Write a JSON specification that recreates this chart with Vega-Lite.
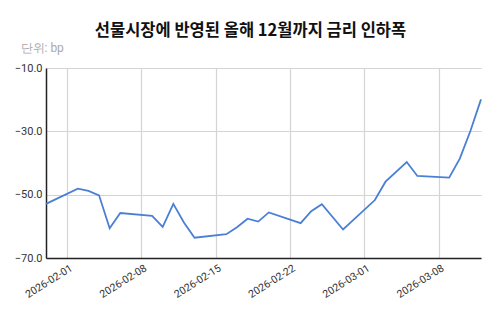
{
  "$schema": "https://vega.github.io/schema/vega-lite/v6.json",
  "autosize": "none",
  "width": 435,
  "height": 190,
  "padding": {"left": 46, "top": 68, "right": 19, "bottom": 54},
  "background": "white",
  "title": {
    "text": "선물시장에 반영된 올해 12월까지 금리 인하폭",
    "font": "Noto Sans CJK KR",
    "fontSize": 16.5,
    "fontWeight": "bold",
    "color": "#111111",
    "anchor": "middle",
    "frame": "group",
    "dx": -13,
    "dy": 19,
    "baseline": "alphabetic",
    "offset": 8
  },
  "data": {
    "values": [
      {"date": "2026-01-30", "value": -52.9},
      {"date": "2026-02-02", "value": -48.1},
      {"date": "2026-02-03", "value": -48.8},
      {"date": "2026-02-04", "value": -50.2},
      {"date": "2026-02-05", "value": -60.6},
      {"date": "2026-02-06", "value": -55.8},
      {"date": "2026-02-09", "value": -56.7},
      {"date": "2026-02-10", "value": -60.2},
      {"date": "2026-02-11", "value": -52.9},
      {"date": "2026-02-12", "value": -58.8},
      {"date": "2026-02-13", "value": -63.6},
      {"date": "2026-02-16", "value": -62.5},
      {"date": "2026-02-17", "value": -60.3},
      {"date": "2026-02-18", "value": -57.6},
      {"date": "2026-02-19", "value": -58.5},
      {"date": "2026-02-20", "value": -55.6},
      {"date": "2026-02-23", "value": -59.0},
      {"date": "2026-02-24", "value": -55.2},
      {"date": "2026-02-25", "value": -53.0},
      {"date": "2026-02-27", "value": -61.0},
      {"date": "2026-03-02", "value": -51.7},
      {"date": "2026-03-03", "value": -45.9},
      {"date": "2026-03-05", "value": -39.7},
      {"date": "2026-03-06", "value": -44.1},
      {"date": "2026-03-09", "value": -44.6},
      {"date": "2026-03-10", "value": -38.6},
      {"date": "2026-03-11", "value": -29.9},
      {"date": "2026-03-12", "value": -19.9}
    ]
  },
  "mark": {"type": "line", "color": "#4a7fd6", "strokeWidth": 1.8, "interpolate": "linear"},
  "encoding": {
    "x": {
      "field": "date",
      "type": "temporal",
      "scale": {"domain": [{"year": 2026, "month": 1, "date": 30}, {"year": 2026, "month": 3, "date": 12}]},
      "axis": {
        "title": null,
        "values": [
          {"year": 2026, "month": 2, "date": 1},
          {"year": 2026, "month": 2, "date": 8},
          {"year": 2026, "month": 2, "date": 15},
          {"year": 2026, "month": 2, "date": 22},
          {"year": 2026, "month": 3, "date": 1},
          {"year": 2026, "month": 3, "date": 8}
        ],
        "format": "%Y-%m-%d",
        "labelAngle": -32,
        "labelAlign": "right",
        "labelBaseline": "middle",
        "labelPadding": 9,
        "labelOffset": 4,
        "labelFont": "Roboto",
        "labelFontSize": 10.5,
        "labelColor": "#333333",
        "ticks": false,
        "domainColor": "#222222",
        "domainWidth": 1.5,
        "grid": true,
        "gridColor": "#d4d4d4",
        "gridWidth": 1.2
      }
    },
    "y": {
      "field": "value",
      "type": "quantitative",
      "scale": {"domain": [-70, -10], "nice": false, "zero": false},
      "axis": {
        "values": [-70, -50, -30, -10],
        "format": ".1f",
        "title": "단위: bp",
        "titleAngle": 0,
        "titleAlign": "left",
        "titleBaseline": "middle",
        "titleX": -26,
        "titleY": -21,
        "titleFont": "Roboto",
        "titleFontSize": 12,
        "titleFontWeight": "normal",
        "titleColor": "#aaaaaa",
        "labelFont": "Roboto",
        "labelFontSize": 11,
        "labelColor": "#333333",
        "labelPadding": 4,
        "ticks": false,
        "domainColor": "#222222",
        "domainWidth": 1.5,
        "grid": true,
        "gridColor": "#d4d4d4",
        "gridWidth": 1.2
      }
    }
  },
  "config": {"view": {"stroke": null}}
}
